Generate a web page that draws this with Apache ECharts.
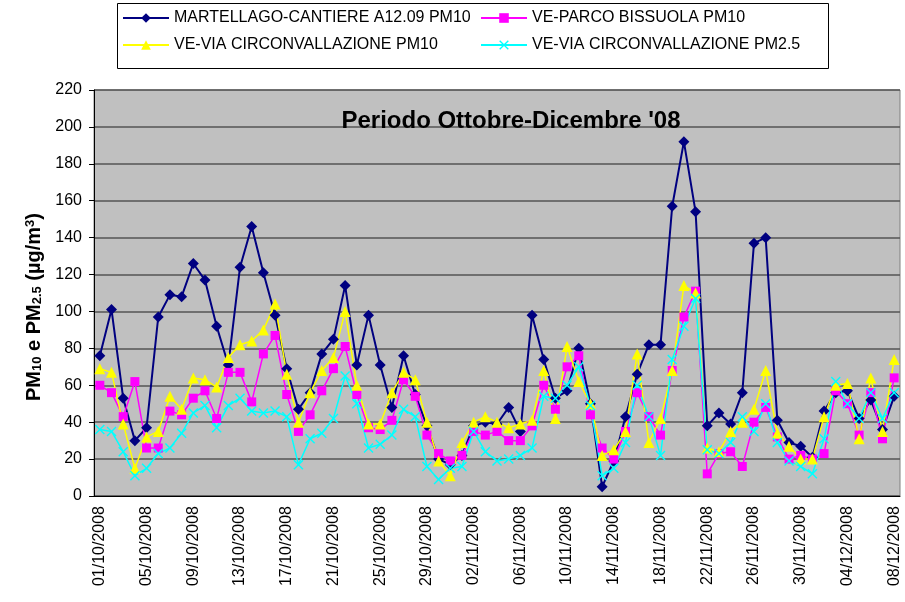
<!DOCTYPE html>
<html>
<head>
<meta charset="utf-8">
<script src="https://cdn.jsdelivr.net/npm/echarts@6/dist/echarts.min.js"></script>
<style>
  html, body { margin: 0; padding: 0; background: #fff; }
  #chart { width: 905px; height: 602px; }
</style>
</head>
<body>
<div id="chart"></div>
<script>
// categories (one per day)
var dates = [
  '01/10/2008','02/10/2008','03/10/2008','04/10/2008','05/10/2008','06/10/2008','07/10/2008','08/10/2008',
  '09/10/2008','10/10/2008','11/10/2008','12/10/2008','13/10/2008','14/10/2008','15/10/2008','16/10/2008',
  '17/10/2008','18/10/2008','19/10/2008','20/10/2008','21/10/2008','22/10/2008','23/10/2008','24/10/2008',
  '25/10/2008','26/10/2008','27/10/2008','28/10/2008','29/10/2008','30/10/2008','31/10/2008','01/11/2008',
  '02/11/2008','03/11/2008','04/11/2008','05/11/2008','06/11/2008','07/11/2008','08/11/2008','09/11/2008',
  '10/11/2008','11/11/2008','12/11/2008','13/11/2008','14/11/2008','15/11/2008','16/11/2008','17/11/2008',
  '18/11/2008','19/11/2008','20/11/2008','21/11/2008','22/11/2008','23/11/2008','24/11/2008','25/11/2008',
  '26/11/2008','27/11/2008','28/11/2008','29/11/2008','30/11/2008','01/12/2008','02/12/2008','03/12/2008',
  '04/12/2008','05/12/2008','06/12/2008','07/12/2008','08/12/2008'
];

var martellago = [76,101,53,30,37,97,109,108,126,117,92,71,124,146,121,98,69,47,56,77,
  85,114,71,98,71,48,76,55,38,20,17,22,38,40,39,48,35,98,74,53,
  57,80,50,5,19,43,66,82,82,157,192,154,38,45,39,56,137,140,41,29,
  27,21,46,56,57,42,52,36,54];

var bissuola = [60,56,43,62,26,26,46,44,53,57,42,67,67,51,77,87,55,35,44,57,
  69,81,55,37,36,41,63,54,33,23,19,22,35,33,35,30,30,38,60,47,
  70,76,44,26,20,35,56,43,33,68,97,111,12,23,24,16,40,48,32,20,
  22,20,23,57,50,33,56,31,64];

var circPM10 = [69,67,39,15,32,35,54,47,64,63,59,75,82,84,90,104,66,40,56,68,
  75,100,60,39,39,56,67,63,40,19,11,29,40,43,40,37,39,41,68,42,
  81,62,50,22,25,35,77,29,42,68,114,110,26,24,35,40,47,68,34,27,
  20,20,43,60,61,31,64,35,74];

var circPM25 = [36,35,24,11,15,23,26,34,45,49,37,49,53,46,45,46,43,17,31,34,
  42,65,50,26,28,33,47,43,16,9,15,16,35,24,19,20,22,26,54,53,
  60,70,49,11,15,29,60,43,22,74,92,107,25,23,29,43,35,50,29,19,
  16,12,31,62,50,42,56,42,56];

var seriesNames = [
  'MARTELLAGO-CANTIERE A12.09 PM10',
  'VE-PARCO BISSUOLA PM10',
  'VE-VIA CIRCONVALLAZIONE PM10',
  'VE-VIA CIRCONVALLAZIONE PM2.5'
];

var font = 'Arial, "Liberation Sans", sans-serif';
var crossPath = 'path://M0,1 L1,0 L5,4 L9,0 L10,1 L6,5 L10,9 L9,10 L5,6 L1,10 L0,9 L4,5 Z';

var chart = echarts.init(document.getElementById('chart'), null, { renderer: 'canvas' });

var option = {
  animation: false,
  backgroundColor: '#fff',
  textStyle: { fontFamily: font },
  title: {
    text: "Periodo Ottobre-Dicembre '08",
    left: 506,
    top: 104,
    textAlign: 'center',
    textStyle: { fontSize: 24, fontWeight: 'bold', color: '#000', fontFamily: font }
  },
  graphic: [{
    type: 'rect',
    shape: { x: 117.5, y: 3.5, width: 711, height: 65 },
    style: { fill: '#fff', stroke: '#000', lineWidth: 1 },
    z: -1
  }],
  legend: [
    {
      data: [seriesNames[0], seriesNames[2]],
      orient: 'vertical',
      left: 122, top: 10,
      itemWidth: 46, itemHeight: 12, itemGap: 11,
      padding: 0,
      textStyle: { fontSize: 16, color: '#000', fontFamily: font }
    },
    {
      data: [seriesNames[1], seriesNames[3]],
      orient: 'vertical',
      left: 480, top: 10,
      itemWidth: 46, itemHeight: 12, itemGap: 11,
      padding: 0,
      textStyle: { fontSize: 16, color: '#000', fontFamily: font }
    }
  ],
  grid: {
    left: 94, right: 5, top: 90, bottom: 106,
    show: true,
    backgroundColor: '#C0C0C0',
    borderColor: '#808080',
    borderWidth: 1
  },
  xAxis: {
    type: 'category',
    data: dates,
    boundaryGap: true,
    axisLine: { lineStyle: { color: '#000', width: 1 } },
    axisTick: { interval: 3, length: 5, lineStyle: { color: '#000' } },
    axisLabel: {
      interval: 3, rotate: 90, margin: 10,
      fontSize: 16, color: '#000', fontFamily: font
    },
    splitLine: { show: false }
  },
  yAxis: {
    type: 'value',
    min: 0, max: 220, interval: 20,
    axisLine: { show: true, lineStyle: { color: '#000', width: 1 } },
    axisTick: { show: true, length: 5, lineStyle: { color: '#000' } },
    axisLabel: { fontSize: 16, color: '#000', margin: 12, fontFamily: font },
    splitLine: { show: true, lineStyle: { color: '#555', width: 1.5 } },
    name: '{a|PM}{s|10}{a| e PM}{s|2.5}{a| (\u00b5g/m}{p|3}{a|)}',
    nameLocation: 'middle',
    nameRotate: 90,
    nameGap: 50,
    nameTextStyle: {
      padding: [0, 28, 0, 0],
      rich: {
        a: { fontSize: 20, fontWeight: 'bold', color: '#000', fontFamily: font },
        s: { fontSize: 13, fontWeight: 'bold', color: '#000', fontFamily: font, verticalAlign: 'bottom' },
        p: { fontSize: 13, fontWeight: 'bold', color: '#000', fontFamily: font, verticalAlign: 'top' }
      }
    }
  },
  series: [
    {
      name: seriesNames[0], type: 'line', data: martellago,
      symbol: 'diamond', symbolSize: 11, showAllSymbol: true,
      itemStyle: { color: '#000080' },
      lineStyle: { color: '#000080', width: 2 }
    },
    {
      name: seriesNames[1], type: 'line', data: bissuola,
      symbol: 'rect', symbolSize: 9, showAllSymbol: true,
      itemStyle: { color: '#FF00FF' },
      lineStyle: { color: '#FF00FF', width: 1.5 }
    },
    {
      name: seriesNames[2], type: 'line', data: circPM10,
      symbol: 'triangle', symbolSize: 11, showAllSymbol: true,
      itemStyle: { color: '#FFFF00' },
      lineStyle: { color: '#FFFF00', width: 1.5 }
    },
    {
      name: seriesNames[3], type: 'line', data: circPM25,
      symbol: crossPath, symbolSize: 10, showAllSymbol: true,
      itemStyle: { color: '#00FFFF' },
      lineStyle: { color: '#00FFFF', width: 1.5 }
    }
  ]
};

chart.setOption(option);
</script>
</body>
</html>
